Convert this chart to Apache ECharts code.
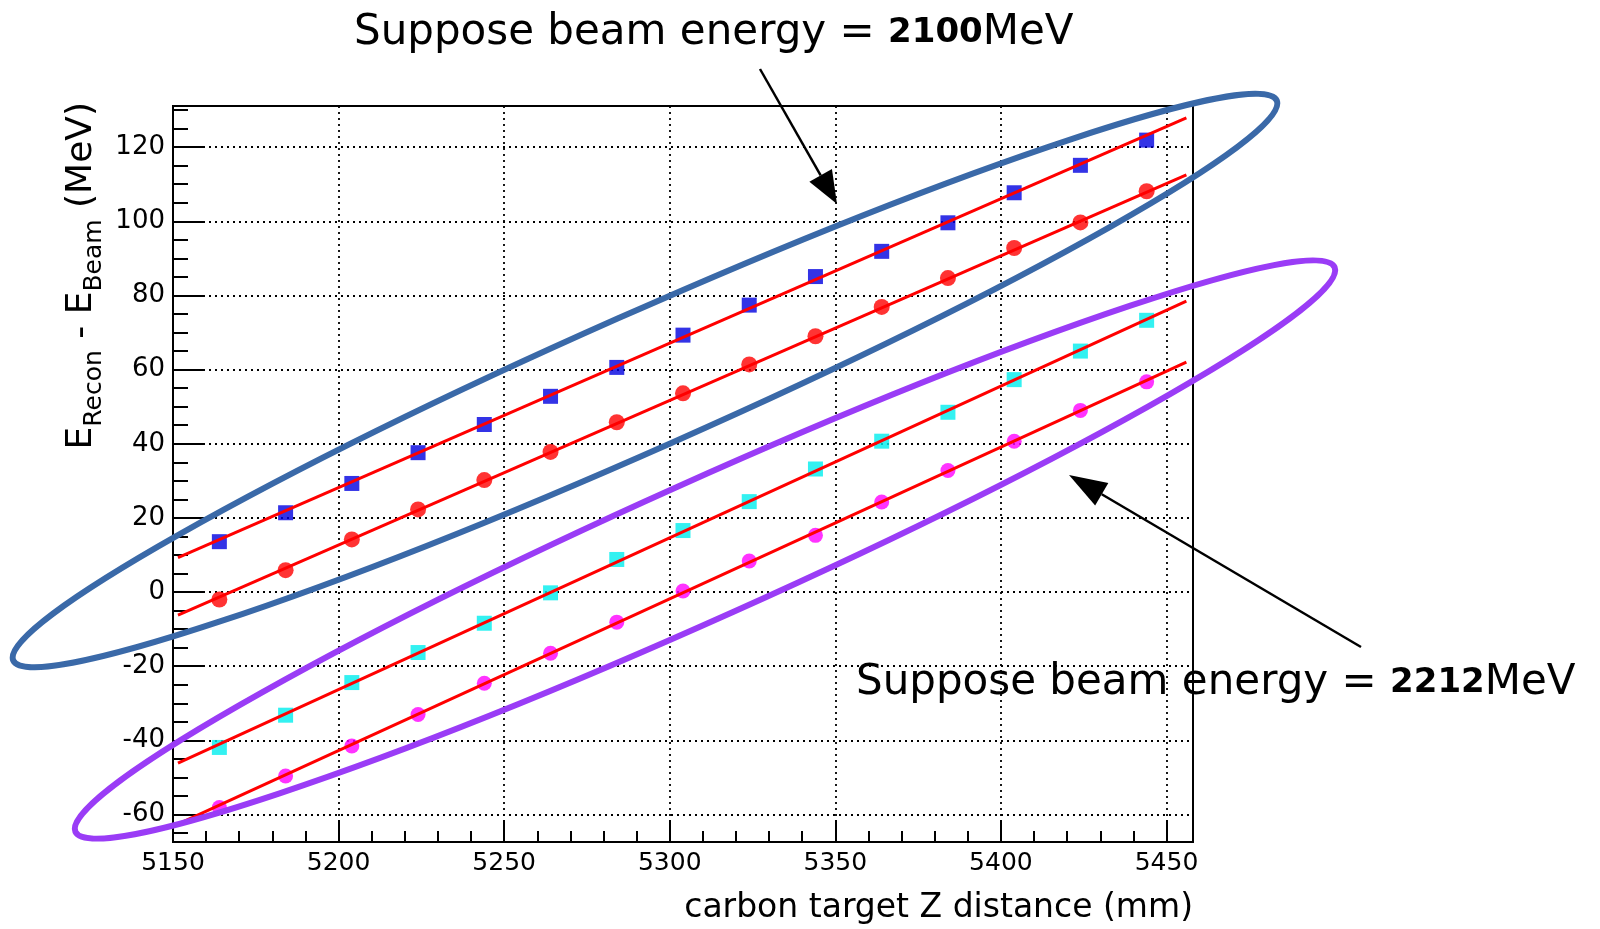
<!DOCTYPE html>
<html>
<head>
<meta charset="utf-8">
<script src="https://cdn.jsdelivr.net/npm/echarts@6/dist/echarts.min.js"></script>
<style>
html, body { margin: 0; padding: 0; background: #fff; }
#chart { width: 1600px; height: 929px; }
</style>
</head>
<body>
<div id="chart"></div>
<script>
// target z positions (mm)
const zPos = [5164, 5184, 5204, 5224, 5244, 5264, 5284, 5304, 5324, 5344, 5364, 5384, 5404, 5424, 5444]
// E_recon - E_beam (MeV)
const blueSq = [13.6, 21.4, 29.3, 37.6, 45.2, 52.8, 60.6, 69.3, 77.4, 85.1, 91.9, 99.6, 107.7, 115.1, 121.9]
const redCirc = [-2.0, 5.9, 14.2, 22.3, 30.2, 37.8, 45.8, 53.6, 61.4, 69.0, 76.9, 84.7, 92.8, 99.7, 108.1]
const cyanSq = [-41.9, -33.2, -24.4, -16.3, -8.4, -0.2, 8.8, 16.6, 24.4, 33.2, 40.7, 48.5, 57.3, 65.0, 73.3]
const magCirc = [-58.1, -49.6, -41.5, -33.0, -24.6, -16.5, -8.1, 0.3, 8.4, 15.3, 24.3, 32.8, 40.7, 49.0, 56.7]
// fit lines (end points)
const fitZ = [5151.5, 5456]
const blueFit = [9.3, 127.9]
const redFit = [-6.2, 112.5]
const cyanFit = [-46.1, 78.5]
const magFit = [-62.6, 62.0]
// ticks
const xMajor = [5150, 5200, 5250, 5300, 5350, 5400, 5450]
const xMinor = [5160, 5170, 5180, 5190, 5210, 5220, 5230, 5240, 5260, 5270, 5280, 5290, 5310, 5320, 5330, 5340,
  5360, 5370, 5380, 5390, 5410, 5420, 5430, 5440]
const yMajor = [-60, -40, -20, 0, 20, 40, 60, 80, 100, 120]
const yMinor = [-65, -55, -50, -45, -35, -30, -25, -15, -10, -5, 5, 10, 15, 25, 30, 35, 45, 50, 55, 65, 70, 75,
  85, 90, 95, 105, 110, 115, 125, 130]

const font = 'DejaVu Sans'
const chart = echarts.init(document.getElementById('chart'))

function pts(ys) {
  return zPos.map((z, i) => [z, ys[i]])
}
function fit(ys) {
  return fitZ.map((z, i) => [z, ys[i]])
}

function arrow(from, to, len, half) {
  let dx = to[0] - from[0], dy = to[1] - from[1]
  let d = Math.sqrt(dx * dx + dy * dy)
  let ux = dx / d, uy = dy / d
  let bx = to[0] - ux * len, by = to[1] - uy * len
  return [
    { type: 'line', z: 120, shape: { x1: from[0], y1: from[1], x2: bx, y2: by }, style: { stroke: '#000', lineWidth: 2.5 } },
    { type: 'polygon', z: 120, shape: { points: [to, [bx - uy * half, by + ux * half], [bx + uy * half, by - ux * half]] }, style: { fill: '#000' } }
  ]
}

// hand drawn rings round each beam-energy group
function ring(cx, cy, rx, ry, deg, color) {
  return {
    type: 'ellipse', x: cx, y: cy, rotation: deg * Math.PI / 180, z: 100,
    shape: { cx: 0, cy: 0, rx: rx, ry: ry },
    style: { fill: 'none', stroke: color, lineWidth: 6 }
  }
}

const noteStyle = {
  t: { fontFamily: font, fontSize: 42, color: '#000' },
  n: { fontFamily: font, fontSize: 34, fontWeight: 'bold', color: '#000' }
}

const option = {
  animation: false,
  backgroundColor: '#fff',
  grid: [
    { left: 173, right: 407, top: 106, bottom: 87, show: true, borderColor: '#000', borderWidth: 2, backgroundColor: 'transparent', outerBoundsMode: 'none' },
    { left: 173, right: 407, top: 106, bottom: 87, show: false, outerBoundsMode: 'none' }
  ],
  xAxis: [
    {
      type: 'value', gridIndex: 0, min: 5150, max: 5458,
      axisLine: { show: true, onZero: false, lineStyle: { color: '#000', width: 2 } },
      axisTick: { show: true, inside: true, length: 22, customValues: xMajor, lineStyle: { color: '#000', width: 2 } },
      axisLabel: { customValues: xMajor, color: '#000', fontFamily: font, fontSize: 25, margin: 9, formatter: v => String(v) },
      splitLine: { show: true, lineStyle: { color: '#000', width: 1.8, type: [2, 4] } },
      name: 'carbon target Z distance (mm)',
      nameLocation: 'end',
      nameGap: 0,
      nameTextStyle: { fontFamily: font, fontSize: 33, color: '#000', align: 'right', verticalAlign: 'top', padding: [50, 0, 0, 0] }
    },
    {
      type: 'value', gridIndex: 1, min: 5150, max: 5458,
      axisLine: { show: false, onZero: false },
      axisTick: { show: true, inside: true, length: 11, customValues: xMinor, lineStyle: { color: '#000', width: 2 } },
      axisLabel: { show: false },
      splitLine: { show: false }
    }
  ],
  yAxis: [
    {
      type: 'value', gridIndex: 0, min: -67.4, max: 131.1,
      axisLine: { show: true, onZero: false, lineStyle: { color: '#000', width: 2 } },
      axisTick: { show: true, inside: true, length: 30, customValues: yMajor, lineStyle: { color: '#000', width: 2 } },
      axisLabel: { customValues: yMajor, color: '#000', fontFamily: font, fontSize: 26, margin: 8 },
      splitLine: { show: true, lineStyle: { color: '#000', width: 1.8, type: [2, 4] } }
    },
    {
      type: 'value', gridIndex: 1, min: -67.4, max: 131.1,
      axisLine: { show: false, onZero: false },
      axisTick: { show: true, inside: true, length: 15, customValues: yMinor, lineStyle: { color: '#000', width: 2 } },
      axisLabel: { show: false },
      splitLine: { show: false }
    }
  ],
  series: [
    { type: 'scatter', symbol: 'rect', symbolSize: 15, itemStyle: { color: '#0000e0' }, data: pts(blueSq), z: 2 },
    { type: 'scatter', symbol: 'circle', symbolSize: 16, itemStyle: { color: '#ff0000' }, data: pts(redCirc), z: 2 },
    { type: 'scatter', symbol: 'rect', symbolSize: 15, itemStyle: { color: '#00eeee' }, data: pts(cyanSq), z: 2 },
    { type: 'scatter', symbol: 'circle', symbolSize: 15, itemStyle: { color: '#ff00ff' }, data: pts(magCirc), z: 2 },
    { type: 'line', showSymbol: false, lineStyle: { color: '#ff0000', width: 3 }, data: fit(blueFit), z: 3 },
    { type: 'line', showSymbol: false, lineStyle: { color: '#ff0000', width: 3 }, data: fit(redFit), z: 3 },
    { type: 'line', showSymbol: false, lineStyle: { color: '#ff0000', width: 3 }, data: fit(cyanFit), z: 3 },
    { type: 'line', showSymbol: false, lineStyle: { color: '#ff0000', width: 3 }, data: fit(magFit), z: 3 }
  ],
  graphic: [
    {
      type: 'text', x: 94, y: 102, rotation: Math.PI / 2, z: 110,
      style: {
        text: '{m|E}{s|Recon}{m| - E}{s|Beam}{m| (MeV)}',
        align: 'right', verticalAlign: 'middle',
        rich: {
          m: { fontFamily: font, fontSize: 36, lineHeight: 36, verticalAlign: 'top', fill: '#000' },
          s: { fontFamily: font, fontSize: 25, lineHeight: 60, verticalAlign: 'middle', fill: '#000' }
        }
      }
    },
    ring(645, 380.5, 691, 67.7, 23.9, '#3a69a8'),
    ring(705, 549.5, 690, 68.5, 24.15, '#9a3cf6'),
    {
      type: 'text', x: 354, y: 33, z: 120,
      style: { text: '{t|Suppose beam energy = }{n|2100}{t|MeV}', verticalAlign: 'middle', rich: noteStyle }
    },
    {
      type: 'text', x: 856, y: 683, z: 120,
      style: { text: '{t|Suppose beam energy = }{n|2212}{t|MeV}', verticalAlign: 'middle', rich: noteStyle }
    },
    ...arrow([760, 69], [837, 204], 33, 13),
    ...arrow([1361, 647], [1069, 475], 38, 13)
  ]
}
chart.setOption(option)
</script>
</body>
</html>
